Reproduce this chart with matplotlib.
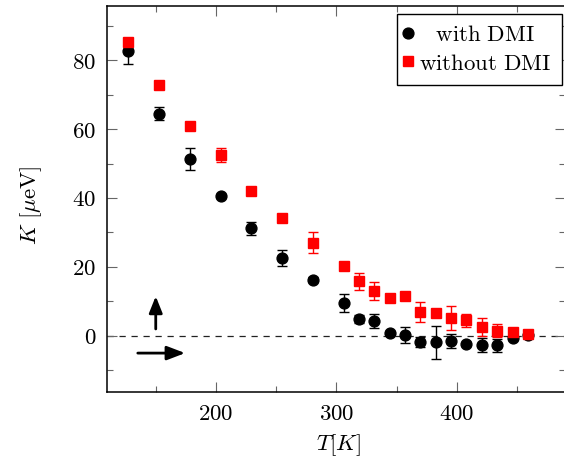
import matplotlib
matplotlib.use("Agg")
import matplotlib.pyplot as plt
from matplotlib.ticker import FixedLocator

plt.rcParams['mathtext.fontset'] = 'cm'
plt.rcParams['font.family'] = ['DejaVu Serif']

# ---- data ----
T = [127.5, 153, 178.5, 204, 229.5, 255, 280.5, 306, 318.75, 331.5,
     344.25, 357, 369.75, 382.5, 395.25, 408, 420.75, 433.5, 446.25, 459]
K_dmi = [82.7, 64.5, 51.3, 40.6, 31.2, 22.6, 16.3, 9.5, 4.9, 4.2,
         0.9, 0.3, -1.8, -1.9, -1.5, -2.3, -2.6, -2.7, -0.7, 0.2]
err_dmi = [3.8, 1.8, 3.3, 0.5, 1.85, 2.3, 0.8, 2.6, 1.2, 2.0,
           0.5, 2.3, 1.4, 4.9, 2.1, 0.5, 2.1, 1.9, 0.5, 0.3]
K_nodmi = [85.3, 72.9, 61.0, 52.5, 41.9, 34.1, 27.0, 20.4, 15.8, 13.1,
           11.0, 11.5, 6.9, 6.6, 5.2, 4.5, 2.7, 1.5, 1.1, 0.4]
err_nodmi = [0.5, 0.5, 0.5, 2.0, 0.5, 0.5, 3.0, 0.5, 2.5, 2.6,
             0.5, 0.5, 2.8, 0.5, 3.5, 1.8, 2.6, 1.9, 0.5, 0.5]

labels = ['with DMI', 'without DMI']
xticks = [200, 300, 400]
xminor = [150, 250, 350, 450]
yticks = [0, 20, 40, 60, 80]
yminor = [-10, 10, 30, 50, 70, 90]

FS = 16.5

fig = plt.figure(figsize=(5.64, 4.61), dpi=100)
ax = fig.add_axes([107.3 / 564, (461 - 391.7) / 461, (565 - 107.3) / 564, (391.7 - 6) / 461])

ax.axhline(0, color='#222222', lw=0.9, linestyle=(0, (5.0, 4.6)), zorder=1)

ax.errorbar(T, K_dmi, yerr=err_dmi, fmt='o', color='black', ms=7.8,
            capsize=3.8, elinewidth=1.0, capthick=1.0, label=labels[0], zorder=3)
ax.errorbar(T, K_nodmi, yerr=err_nodmi, fmt='s', color='red', ms=7.6,
            capsize=3.8, elinewidth=1.0, capthick=1.0, label=labels[1], zorder=4)

# arrows
ax.annotate('', xy=(150.2, 11.5), xytext=(150.2, 2.0),
            arrowprops=dict(arrowstyle='-|>,head_length=1.0,head_width=0.4',
                            color='black', lw=2.0, shrinkA=0, shrinkB=0,
                            mutation_scale=10))
ax.annotate('', xy=(174.6, -5.0), xytext=(135.3, -5.0),
            arrowprops=dict(arrowstyle='-|>,head_length=1.1,head_width=0.42',
                            color='black', lw=2.0, shrinkA=0, shrinkB=0,
                            mutation_scale=10))

ax.set_xlim(110, 489.8)
ax.set_ylim(-16.2, 95.7)

ax.xaxis.set_major_locator(FixedLocator(xticks))
ax.xaxis.set_minor_locator(FixedLocator(xminor))
ax.yaxis.set_major_locator(FixedLocator(yticks))
ax.yaxis.set_minor_locator(FixedLocator(yminor))
ax.set_xticklabels([f'${v}$' for v in xticks], fontsize=FS)
ax.set_yticklabels([f'${v}$' for v in yticks], fontsize=FS)

ax.tick_params(which='both', direction='in', top=True, right=True,
               color='#666666', width=0.8)
ax.tick_params(which='major', length=7, pad=8)
ax.tick_params(which='minor', length=4.6)

for s in ax.spines.values():
    s.set_linewidth(1.1)
    s.set_color('black')

ax.set_xlabel(r'$T[K]$', fontsize=FS)
ax.set_ylabel(r'$K\ [\mu\mathrm{eV}]$', fontsize=FS)
ax.xaxis.set_label_coords(0.504, -0.104)
ax.yaxis.set_label_coords(-0.138, 0.484)

handles, _ = ax.get_legend_handles_labels()
hnd = [h[0] for h in handles]
leg = ax.legend(hnd, [r'$\mathrm{\ \ \,with\ DMI}$', r'$\mathrm{without\ DMI}\,$'],
                loc='upper right', bbox_to_anchor=((561.7 - 107.3) / 457.7, (391.7 - 14) / 385.7),
                borderaxespad=0, fontsize=FS, fancybox=False, framealpha=1,
                edgecolor='black', handlelength=0.05, handletextpad=0.46,
                borderpad=0.45, labelspacing=0.27)
leg.get_frame().set_linewidth(1.0)

fig.savefig('out.png', dpi=100)
